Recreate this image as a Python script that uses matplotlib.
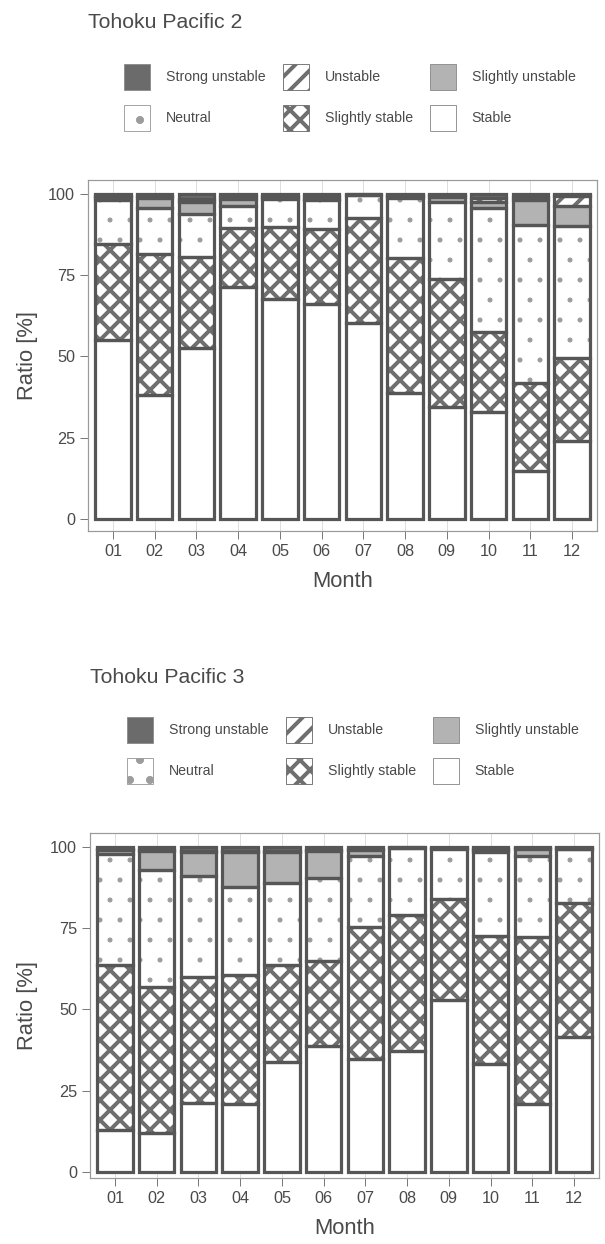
import matplotlib
matplotlib.use("Agg")
import matplotlib.pyplot as plt
from matplotlib.patches import Patch
import numpy as np

DPI = 120
W, H = 605, 1244
PX = 72.0 / DPI  # points per pixel

plt.rcParams["font.family"] = ["Liberation Sans", "DejaVu Sans"]
plt.rcParams["hatch.linewidth"] = 4.0 * PX

months = ["01", "02", "03", "04", "05", "06", "07", "08", "09", "10", "11", "12"]
classes = ["Strong unstable", "Unstable", "Slightly unstable",
           "Neutral", "Slightly stable", "Stable"]

# Tohoku Pacific 2 : share of each stability class per month [%]
tp2_stable = [55.0, 38.2, 52.5, 71.5, 67.6, 66.2, 60.4, 38.7, 34.4, 33.0, 14.9, 24.1]
tp2_slightly_stable = [29.5, 43.2, 28.2, 17.9, 22.3, 23.0, 32.1, 41.7, 39.3, 24.6, 27.0, 25.5]
tp2_neutral = [13.8, 14.2, 13.0, 7.0, 8.6, 9.0, 7.2, 18.5, 23.9, 38.2, 48.6, 40.4]
tp2_slightly_unstable = [0.7, 3.3, 3.7, 2.1, 0.5, 0.3, 0.1, 0.4, 1.6, 1.6, 7.7, 6.4]
tp2_unstable = [0.5, 0.6, 1.1, 0.8, 0.5, 0.9, 0.1, 0.4, 0.4, 1.3, 1.0, 3.1]
tp2_strong_unstable = [0.5, 0.5, 1.5, 0.7, 0.5, 0.6, 0.1, 0.3, 0.4, 1.3, 0.8, 0.5]

# Tohoku Pacific 3 : share of each stability class per month [%]
tp3_stable = [12.8, 11.9, 21.1, 21.0, 33.7, 38.7, 34.7, 37.1, 52.8, 33.1, 20.8, 41.4]
tp3_slightly_stable = [50.8, 44.9, 38.8, 39.5, 29.9, 26.1, 40.7, 42.1, 31.1, 39.5, 51.5, 41.5]
tp3_neutral = [34.1, 36.0, 31.2, 27.2, 25.4, 25.5, 21.8, 20.5, 15.6, 25.7, 24.9, 16.4]
tp3_slightly_unstable = [1.3, 5.9, 7.2, 10.8, 9.5, 8.4, 1.8, 0.1, 0.1, 0.7, 2.3, 0.2]
tp3_unstable = [0.4, 0.3, 0.5, 0.3, 0.3, 0.3, 0.4, 0.1, 0.2, 0.4, 0.2, 0.2]
tp3_strong_unstable = [0.6, 1.0, 1.2, 1.2, 1.2, 1.0, 0.6, 0.1, 0.2, 0.6, 0.3, 0.3]

TEXT = "#4a4a4a"
EDGE = "#565656"
HATCH = "#6f6f6f"
DOT = "#9c9c9c"

# face colour, hatch pattern, hatch colour, hatch line width (px)
STYLE = {
    "Stable": ("white", None, HATCH, 4.0),
    "Slightly stable": ("white", "xx", HATCH, 4.0),
    "Neutral": ("white", ".", DOT, 1.0),
    "Slightly unstable": ("#b3b3b3", None, HATCH, 4.0),
    "Unstable": ("white", "//", HATCH, 4.0),
    "Strong unstable": ("#6b6b6b", None, HATCH, 4.0),
}


def set_hlw(patch, px):
    if hasattr(patch, "set_hatch_linewidth"):
        patch.set_hatch_linewidth(px * PX)


def frac(left, top, right, bottom):
    return [left / W, 1 - bottom / H, (right - left) / W, (bottom - top) / H]


def panel(fig, title, series, title_base, legend_xy, box, ylow):
    left, top, right, bottom = box
    fig.text(left / W, 1 - title_base / H, title, fontsize=21.3 * PX,
             color=TEXT, ha="left", va="baseline")

    ax = fig.add_axes(frac(*box))
    x = np.arange(len(months))
    base = np.zeros(len(months))
    order = ["Stable", "Slightly stable", "Neutral",
             "Slightly unstable", "Unstable", "Strong unstable"]
    for name in order:
        vals = np.asarray(series[name], dtype=float)
        face, hatch, hcol, hlw = STYLE[name]
        fill = ax.bar(x, vals, bottom=base, width=0.85, color=face,
                      edgecolor=hcol, linewidth=0, hatch=hatch, zorder=2)
        for p in fill:
            set_hlw(p, hlw)
        ax.bar(x, vals, bottom=base, width=0.85, fill=False,
               edgecolor=EDGE, linewidth=3.2 * PX, zorder=3)
        base += vals

    ax.set_xlim(-0.6, 11.6)
    ax.set_ylim(ylow, 104.3)
    ax.set_xticks(x)
    ax.set_xticklabels(months)
    ax.set_yticks([0, 25, 50, 75, 100])
    ax.tick_params(direction="out", length=8 * PX, width=1.0 * PX,
                   color="#7a7a7a", labelcolor=TEXT, labelsize=16.2 * PX,
                   pad=5 * PX)
    ax.grid(axis="x", color="#dedede", linewidth=1.0 * PX, zorder=0)
    ax.set_axisbelow(True)
    for s in ax.spines.values():
        s.set_color("#9a9a9a")
        s.set_linewidth(1.2 * PX)
    ax.set_ylabel("Ratio [%]", fontsize=22 * PX, color=TEXT)
    ax.set_xlabel("Month", fontsize=22 * PX, color=TEXT)
    h_px = bottom - top
    ax.yaxis.set_label_coords((38 - left) / (right - left), 0.5)
    ax.xaxis.set_label_coords(0.5, -40.0 / h_px)

    handles = []
    for name in classes:
        face, hatch, hcol, hlw = STYLE[name]
        h = Patch(facecolor=face, edgecolor="#8c8c8c" if hatch is None else hcol,
                  hatch=hatch, linewidth=0.9 * PX, label=name)
        set_hlw(h, hlw)
        handles.append(h)
    # legend fills column by column: reorder so rows read as listed
    ordered = [handles[0], handles[3], handles[1], handles[4], handles[2], handles[5]]
    fs = 14.1
    hh = (26 / fs - 0.245) / 0.65
    fig.legend(handles=ordered, loc="upper left",
               bbox_to_anchor=(legend_xy[0] / W, 1 - legend_xy[1] / H),
               ncol=3, frameon=False, fontsize=fs * PX, labelcolor=TEXT,
               handlelength=26 / fs, handleheight=hh,
               handletextpad=16 / fs, columnspacing=17 / fs,
               labelspacing=15 / fs, borderpad=0, borderaxespad=0)
    return ax


fig = plt.figure(figsize=(W / DPI, H / DPI), dpi=DPI)

tp2 = {"Stable": tp2_stable, "Slightly stable": tp2_slightly_stable,
       "Neutral": tp2_neutral, "Slightly unstable": tp2_slightly_unstable,
       "Unstable": tp2_unstable, "Strong unstable": tp2_strong_unstable}
tp3 = {"Stable": tp3_stable, "Slightly stable": tp3_slightly_stable,
       "Neutral": tp3_neutral, "Slightly unstable": tp3_slightly_unstable,
       "Unstable": tp3_unstable, "Strong unstable": tp3_strong_unstable}

panel(fig, "Tohoku Pacific 2", tp2, 28, (124, 64), (88, 180, 597, 531), -3.7)
panel(fig, "Tohoku Pacific 3", tp3, 683, (127, 717), (90, 833, 599, 1178), -1.9)

fig.savefig("out.png", dpi=DPI)
